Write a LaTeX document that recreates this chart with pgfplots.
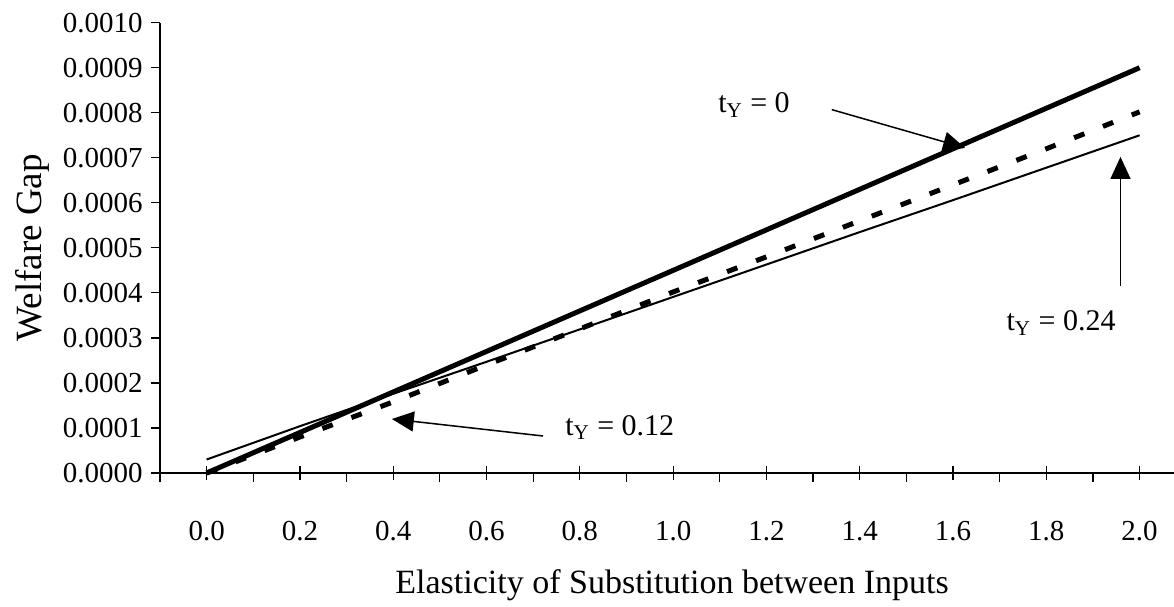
\documentclass[border=0pt]{standalone}
\usepackage{pgfplots}
\pgfplotsset{compat=1.18}
\usepackage{fontspec}
\setmainfont{Liberation Serif}
\usetikzlibrary{arrows.meta}
\begin{document}
\begin{tikzpicture}
\useasboundingbox (0,0) rectangle (587pt,-303pt);
\begin{axis}[
  at={(80pt,-236.5pt)}, anchor=south west,
  scale only axis, width=507pt, height=225.15pt,
  xmin=-0.1, xmax=2.0737, ymin=0, ymax=0.001,
  clip=false,
  axis x line=bottom, axis y line=left,
  axis line style={-, black, line width=0.6pt},
  tick style={black, line width=0.6pt},
  tick align=outside, major tick length=4.5pt,
  xtick={-0.1,0.1,0.3,0.5,0.7,0.9,1.1,1.3,1.5,1.7,1.9},
  xticklabels={},
  extra x ticks={0,0.2,0.4,0.6,0.8,1.0,1.2,1.4,1.6,1.8,2.0},
  extra x tick labels={0.0,0.2,0.4,0.6,0.8,1.0,1.2,1.4,1.6,1.8,2.0},
  extra x tick style={tick align=center, major tick length=7pt},
  ytick={0,0.0001,0.0002,0.0003,0.0004,0.0005,0.0006,0.0007,0.0008,0.0009,0.001},
  yticklabels={0.0000,0.0001,0.0002,0.0003,0.0004,0.0005,0.0006,0.0007,0.0008,0.0009,0.0010},
  scaled y ticks=false,
  tick label style={font=\fontsize{14.5}{17}\selectfont},
  xticklabel style={anchor=base, yshift=-30pt},
  yticklabel style={anchor=east, inner sep=0pt, xshift=-4pt},
  xlabel={Elasticity of Substitution between Inputs},
  xlabel style={at={(axis description cs:0.505,-0.2665)}, anchor=base, font=\fontsize{17}{20}\selectfont},
  ylabel={Welfare Gap},
  ylabel style={at={(axis description cs:-0.1262,0.5)}, anchor=center, font=\fontsize{18.5}{22}\selectfont},
]
% t_Y = 0.24 (thin solid)
\addplot[black, line width=1pt] coordinates {
(0.0,0.000030) (0.2,0.000104) (0.4,0.000176) (0.6,0.000247) (0.8,0.000319)
(1.0,0.000391) (1.2,0.000463) (1.4,0.000535) (1.6,0.000606) (1.8,0.000678) (2.0,0.000750)};
% t_Y = 0.12 (dashed)
\addplot[black, line width=2.5pt, dash pattern=on 5.5pt off 10pt] coordinates {
(0.0,0.0) (0.2,0.000080) (0.4,0.000158) (0.6,0.000240) (0.8,0.000320)
(1.0,0.000402) (1.2,0.000480) (1.4,0.000560) (1.6,0.000640) (1.8,0.000720) (2.0,0.000802)};
% t_Y = 0 (thick solid)
\addplot[black, line width=2.5pt] coordinates {
(0.0,0.0) (0.2,0.000090) (0.4,0.000180) (0.6,0.000270) (0.8,0.000360)
(1.0,0.000450) (1.2,0.000540) (1.4,0.000630) (1.6,0.000720) (1.8,0.000810) (2.0,0.000900)};
% annotations
\node[anchor=base west, inner sep=0pt, font=\fontsize{15}{18}\selectfont] at (axis cs:1.096,0.000800) {t\textsubscript{Y} = 0};
\draw[black, line width=0.75pt, -{Triangle[length=11pt,width=10pt]}] (axis cs:1.340,0.000807) -- (axis cs:1.626,0.000722);
\node[anchor=base west, inner sep=0pt, font=\fontsize{15}{18}\selectfont] at (axis cs:0.768,0.0000844) {t\textsubscript{Y} = 0.12};
\draw[black, line width=0.75pt, -{Triangle[length=11pt,width=10pt]}] (axis cs:0.721,0.0000822) -- (axis cs:0.397,0.000120);
\node[anchor=base west, inner sep=0pt, font=\fontsize{15}{18}\selectfont] at (axis cs:1.714,0.000316) {t\textsubscript{Y} = 0.24};
\draw[black, line width=0.75pt, -{Triangle[length=11pt,width=10pt]}] (axis cs:1.959,0.000416) -- (axis cs:1.959,0.000702);
\end{axis}
\end{tikzpicture}
\end{document}
